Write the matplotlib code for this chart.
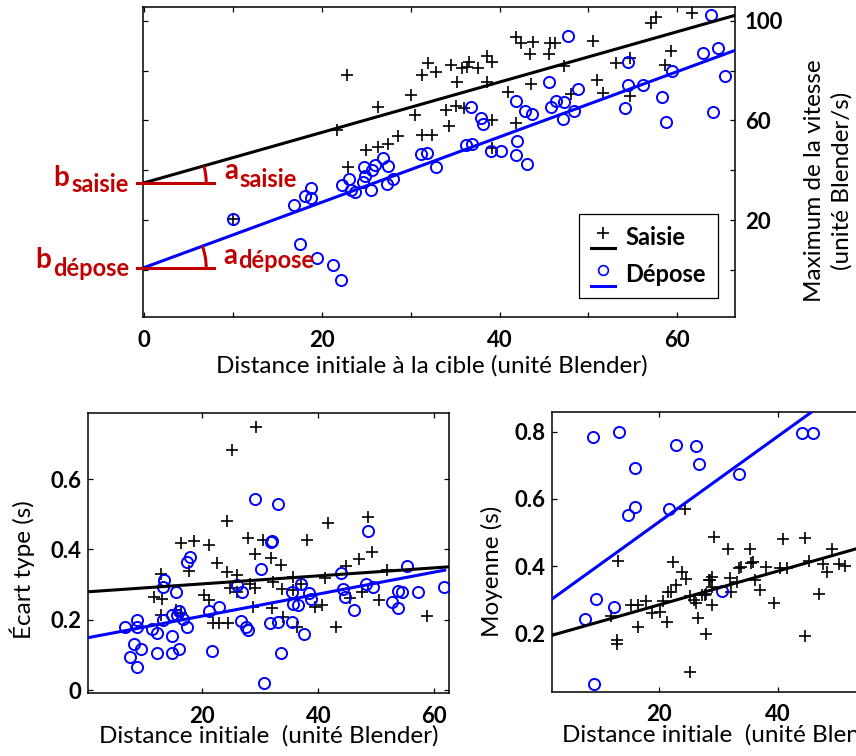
import math
import numpy as np
import matplotlib
matplotlib.use("Agg")
import matplotlib.pyplot as plt
from matplotlib.lines import Line2D
from matplotlib.patches import Arc
from matplotlib.legend_handler import HandlerBase
from matplotlib.transforms import ScaledTranslation

plt.rcParams["font.family"] = ["Lato", "DejaVu Sans"]

RED = "#C00000"
BLUE = "#0000FF"

# ---------------- top panel : max speed vs initial distance ----------------
top_saisie_x = [22.8, 26.3, 21.7, 30.0, 31.3, 31.9, 30.5, 28.6, 31.3, 25.0, 26.3, 27.5, 22.9, 10.0,
                32.4, 32.9, 34.5, 35.2, 34.0, 34.3, 35.1, 36.0, 35.8, 36.3, 36.6, 37.6, 38.6, 39.1,
                38.6, 39.1, 39.1, 40.9, 41.8, 42.4, 43.8, 43.4, 41.8, 43.5, 45.7, 46.2, 45.6,
                47.2, 48.1, 50.5, 51.0, 51.7, 53.1, 54.7, 54.7, 57.1, 57.6, 58.6, 59.3, 61.7]
top_saisie_y = [78.3, 65.4, 56.0, 70.3, 78.3, 83.0, 62.3, 53.6, 54.3, 48.3, 49.2, 50.7, 41.4, 20.6,
                54.3, 79.6, 82.3, 75.4, 64.3, 57.6, 66.0, 65.0, 81.0, 81.6, 83.6, 81.0, 85.9, 83.6,
                75.6, 60.3, 49.0, 71.5, 93.4, 91.2, 91.6, 86.6, 59.0, 74.7, 91.2, 91.0, 86.6,
                81.9, 70.7, 92.0, 76.3, 71.2, 83.0, 85.0, 70.0, 99.2, 101.4, 82.3, 87.9, 103.0]
top_depose_x = [10.0, 16.9, 18.1, 18.8, 18.8, 17.5, 19.4, 21.2, 22.2, 22.3, 23.1, 23.3, 23.7, 24.7,
                24.8, 24.6, 25.5, 25.7, 26.0, 26.9, 27.4, 27.3, 28.0, 31.2, 31.8, 32.8, 36.8, 37.9,
                38.1, 36.2, 36.9, 39.0, 40.2, 41.8, 42.9, 43.6, 42.0, 41.8, 43.1, 45.6, 45.8, 46.4,
                47.2, 47.1, 48.4, 48.8, 47.7, 54.1, 54.5, 54.5, 56.1, 58.3, 58.7, 59.4, 62.9, 64.6,
                63.8, 65.4, 64.0]
top_depose_y = [20.6, 26.0, 29.6, 33.0, 29.0, 10.6, 4.7, 2.2, -4.0, 34.3, 36.7, 32.3, 31.4, 41.4,
                37.6, 35.2, 32.0, 40.0, 42.0, 44.9, 41.6, 34.6, 36.7, 46.7, 47.0, 41.3, 65.6, 61.0,
                58.7, 50.3, 50.6, 47.6, 47.6, 67.9, 63.6, 62.6, 51.6, 46.0, 42.6, 75.6, 65.6, 68.0,
                67.6, 60.7, 63.9, 72.6, 93.9, 65.0, 83.4, 74.3, 74.3, 69.6, 59.2, 79.9, 87.0, 89.2,
                102.3, 77.9, 63.2]
# fitted lines: [intercept, slope]
top_fit_saisie = [35.0, 1.01]
top_fit_depose = [1.0, 1.31]

# ---------------- bottom left : standard deviation ----------------
std_saisie_x = [29.3, 25.2, 24.3, 27.9, 18.6, 16.3, 21.2, 30.5, 38.1, 41.7, 48.5, 49.3, 47.1, 44.8,
                51.8, 41.1, 29.1, 22.5, 24.2, 26.0, 31.8, 33.6, 35.7, 17.7, 12.8, 11.7, 13.1, 12.9,
                15.5, 16.4, 20.3, 21.2, 21.9, 22.8, 24.5, 24.8, 25.9, 28.2, 29.1, 28.8, 32.2, 32.1,
                33.8, 34.0, 36.4, 39.4, 40.6, 43.0, 45.5, 47.6, 50.5, 58.8, 35.7, 37.0]
std_saisie_y = [0.747, 0.684, 0.482, 0.433, 0.425, 0.417, 0.412, 0.428, 0.428, 0.474, 0.493, 0.393,
                0.374, 0.353, 0.341, 0.320, 0.387, 0.362, 0.336, 0.327, 0.377, 0.355, 0.322, 0.339,
                0.329, 0.265, 0.258, 0.213, 0.227, 0.218, 0.270, 0.256, 0.190, 0.190, 0.190, 0.289,
                0.278, 0.303, 0.289, 0.237, 0.308, 0.234, 0.286, 0.209, 0.180, 0.237, 0.242, 0.178,
                0.261, 0.280, 0.256, 0.210, 0.284, 0.303]
std_depose_x = [29.0, 33.0, 48.6, 32.1, 31.8, 17.9, 17.3, 30.2, 55.3, 44.0, 13.4, 13.2, 15.4, 26.0,
                26.9, 37.0, 35.4, 38.4, 38.8, 35.7, 36.5, 44.3, 44.6, 46.2, 48.2, 49.5, 52.8, 53.8,
                54.5, 53.8, 57.2, 61.7, 22.9, 21.2, 16.0, 15.6, 14.7, 16.6, 17.3, 13.2, 12.2, 11.3,
                8.7, 8.8, 6.7, 8.2, 7.5, 9.4, 8.8, 12.2, 14.7, 14.7, 16.0, 21.7, 26.7, 27.6, 27.9,
                31.7, 33.0, 35.5, 37.6, 33.6, 30.6]
std_depose_y = [0.544, 0.530, 0.452, 0.425, 0.420, 0.379, 0.365, 0.343, 0.353, 0.332, 0.313, 0.292,
                0.278, 0.299, 0.280, 0.303, 0.278, 0.275, 0.258, 0.246, 0.241, 0.286, 0.265, 0.229,
                0.301, 0.294, 0.251, 0.282, 0.280, 0.234, 0.278, 0.294, 0.237, 0.225, 0.225, 0.213,
                0.213, 0.201, 0.178, 0.199, 0.161, 0.175, 0.199, 0.180, 0.178, 0.130, 0.095, 0.118,
                0.066, 0.106, 0.154, 0.106, 0.116, 0.112, 0.197, 0.180, 0.171, 0.190, 0.194, 0.194,
                0.158, 0.106, 0.019]
std_fit_saisie = [0.2792, 0.00114]
std_fit_depose = [0.148, 0.003124]

# ---------------- bottom right : mean ----------------
mean_saisie_x = [24.4, 13.1, 22.4, 23.9, 24.6, 22.8, 21.6, 22.0, 28.5, 20.6, 17.8, 16.5, 15.2, 18.8,
                 20.2, 16.4, 21.3, 11.9, 25.2, 25.9, 26.2, 27.8, 26.6, 12.9, 12.9, 25.2,
                 29.2, 31.7, 35.4, 41.0, 44.6, 49.1, 33.5, 33.9, 35.6, 35.8, 38.0, 40.4, 41.6, 45.3,
                 47.6, 48.3, 50.4, 51.3, 32.0, 33.2, 36.2, 37.0, 32.2, 29.0, 28.6, 28.9, 28.0, 27.2,
                 28.9, 39.4, 47.0, 28.0, 44.6]
mean_saisie_y = [0.570, 0.416, 0.411, 0.381, 0.361, 0.343, 0.324, 0.322, 0.358, 0.296, 0.296, 0.284,
                 0.284, 0.259, 0.264, 0.219, 0.232, 0.252, 0.312, 0.299, 0.289, 0.314, 0.246, 0.180,
                 0.167, 0.085,
                 0.487, 0.450, 0.450, 0.482, 0.485, 0.450, 0.395, 0.398, 0.408, 0.413, 0.396, 0.393,
                 0.393, 0.415, 0.405, 0.383, 0.405, 0.401, 0.363, 0.353, 0.358, 0.328, 0.324, 0.368,
                 0.358, 0.338, 0.318, 0.313, 0.284, 0.289, 0.318, 0.197, 0.192]
mean_depose_x = [8.8, 13.2, 22.9, 26.2, 26.7, 16.0, 33.5, 44.2, 46.0, 14.8, 16.0, 21.7, 9.4, 7.6,
                 12.4, 9.0, 30.7]
mean_depose_y = [0.785, 0.798, 0.760, 0.758, 0.704, 0.693, 0.673, 0.797, 0.795, 0.552, 0.577, 0.570,
                 0.302, 0.242, 0.277, 0.049, 0.325]
mean_fit_saisie = [0.184, 0.00502]
mean_fit_depose = [0.277, 0.01272]

LABEL_SIZE = 17.5


class MarkerOverLine(HandlerBase):
    # legend key: marker sitting above a short line segment
    def create_artists(self, legend, orig_handle, xdescent, ydescent,
                       width, height, fontsize, trans):
        x0 = -xdescent
        line = Line2D([x0, x0 + width], [-ydescent - 0.2 * height] * 2,
                      color=orig_handle.get_color(), lw=orig_handle.get_linewidth())
        mark = Line2D([x0 + width / 2], [-ydescent + 0.75 * height],
                      marker=orig_handle.get_marker(), ls="none",
                      mfc="none", mec=orig_handle.get_color(),
                      ms=orig_handle.get_markersize(), mew=orig_handle.get_markeredgewidth())
        line.set_transform(trans)
        mark.set_transform(trans)
        return [line, mark]


def style_axes(ax):
    for s in ax.spines.values():
        s.set_linewidth(1.1)
    ax.tick_params(direction="in", length=3.6, width=0.9, top=True, right=True,
                   labelsize=16)
    for lab in ax.get_xticklabels() + ax.get_yticklabels():
        lab.set_fontweight("bold")


def scatter_pair(ax, sx, sy, dx, dy):
    ax.plot(sx, sy, "+", color="black", ms=9, mew=1.2, zorder=3)
    ax.plot(dx, dy, "o", mfc="none", mec=BLUE, ms=8, mew=1.4, zorder=3)


def fit_line(ax, fit, x0, x1, color):
    xs = np.array([x0, x1])
    ax.plot(xs, fit[0] + fit[1] * xs, color=color, lw=2.2, zorder=4)


def red_label(ax, b, letter, name, x_letter, dy_letter, dy_sub, right):
    # big letter + subscript, offsets in pixels from (0, b), y positive upward
    px = 0.72
    if right:
        ha, xs = "right", x_letter + 2
    else:
        ha, xs = "left", x_letter + 15
    ax.annotate(letter, xy=(0, b), xytext=(x_letter * px, dy_letter * px),
                textcoords="offset points", ha=ha, va="baseline", color=RED,
                fontsize=20, fontweight="bold", annotation_clip=False)
    ax.annotate(name, xy=(0, b), xytext=(xs * px, dy_sub * px), textcoords="offset points",
                ha="left", va="baseline", color=RED, fontsize=17, fontweight="bold",
                annotation_clip=False)


fig = plt.figure(figsize=(8.56, 7.56), dpi=100)

# ---- top ----
ax = fig.add_axes([0.1674, 0.5803, 0.6912, 0.4104])
scatter_pair(ax, top_saisie_x, top_saisie_y, top_depose_x, top_depose_y)
ax.set_xlim(-0.1, 66.5)
ax.set_ylim(-18.95, 105.5)
fit_line(ax, top_fit_saisie, 0, 66.5, "black")
fit_line(ax, top_fit_depose, 0, 66.5, BLUE)
ax.set_xticks(range(0, 61, 10))
ax.set_xticklabels(["0", "", "20", "", "40", "", "60"])
ax.set_yticks(range(0, 101, 20))
ax.set_yticklabels(["", "20", "", "60", "", "100"])
ax.yaxis.tick_right()
style_axes(ax)
ax.tick_params(labelleft=False, labelright=True, left=True)
ax.tick_params(axis="x", pad=9)
ax.tick_params(axis="y", pad=7)
ax.set_xlabel("Distance initiale à la cible (unité Blender)", fontsize=LABEL_SIZE)
ax.xaxis.set_label_coords(0.487, -0.157)
ax.xaxis.label.set(va="center")
ax.text(1.157, 0.44, "Maximum de la vitesse\n(unité Blender/s)", transform=ax.transAxes,
        rotation=90, ha="center", va="center", fontsize=LABEL_SIZE, linespacing=1.35)

h_s = Line2D([], [], color="black", lw=2.2, marker="+", ms=9, mew=1.2)
h_d = Line2D([], [], color=BLUE, lw=2.2, marker="o", ms=7, mew=1.2)
leg = ax.legend([h_s, h_d], ["Saisie", "Dépose"], loc="lower right",
                bbox_to_anchor=(0.971, 0.062), borderaxespad=0,
                handler_map={Line2D: MarkerOverLine()},
                prop={"weight": "bold", "size": 17}, handlelength=1.0, handletextpad=0.45,
                labelspacing=0.6, borderpad=0.5, fancybox=False, framealpha=1,
                edgecolor="black")
leg.get_frame().set_linewidth(0.9)

# intercept / slope annotations: (b x, b dy, sub dy, a x, a dy, sub dy) in pixels
for fit, name, pos in [(top_fit_saisie, "saisie", (-75, -3.7, -9.4, 80, 3.3, -4.0)),
                       (top_fit_depose, "dépose", (-93, 0.0, -8.4, 79, 3.3, -0.5))]:
    b = fit[0]
    p0 = ax.transData.transform((0, b))
    p1 = ax.transData.transform((10, b + 10 * fit[1]))
    ang = math.degrees(math.atan2(p1[1] - p0[1], p1[0] - p0[0]))
    tr = fig.dpi_scale_trans + ScaledTranslation(0, b, ax.transData)
    ax.add_line(Line2D([-0.07, 0.70], [0, 0], color=RED, lw=2.2, transform=tr,
                       clip_on=False, zorder=5))
    ax.add_patch(Arc((0, 0), 1.24, 1.24, theta1=0, theta2=ang, color=RED, lw=2.2,
                     transform=tr, clip_on=False, zorder=5))
    red_label(ax, b, "b", name, pos[0], pos[1], pos[2], right=True)
    red_label(ax, b, "a", name, pos[3], pos[4], pos[5], right=False)

# ---- bottom left ----
ax2 = fig.add_axes([0.1032, 0.0829, 0.4217, 0.3712])
scatter_pair(ax2, std_saisie_x, std_saisie_y, std_depose_x, std_depose_y)
ax2.set_xlim(0.34, 62.6)
ax2.set_ylim(-0.0094, 0.789)
fit_line(ax2, std_fit_saisie, 0.34, 62.6, "black")
fit_line(ax2, std_fit_depose, 0.34, 61.8, BLUE)
ax2.set_xticks([20, 40, 60])
ax2.set_yticks([0, 0.2, 0.4, 0.6])
ax2.set_yticklabels(["0", "0.2", "0.4", "0.6"])
style_axes(ax2)
ax2.tick_params(axis="x", pad=9)
ax2.tick_params(axis="y", pad=5)
ax2.set_xlabel("Distance initiale  (unité Blender)", fontsize=LABEL_SIZE, labelpad=-1)
ax2.set_ylabel("Écart type (s)", fontsize=LABEL_SIZE)
ax2.yaxis.set_label_coords(-0.184, 0.44)
ax2.yaxis.label.set(ha="center", va="center")

# ---- bottom right ----
ax3 = fig.add_axes([0.6452, 0.0847, 0.419, 0.3704])
scatter_pair(ax3, mean_saisie_x, mean_saisie_y, mean_depose_x, mean_depose_y)
ax3.set_xlim(2.0, 62.5)
ax3.set_ylim(0.025, 0.859)
fit_line(ax3, mean_fit_saisie, 2.0, 62.5, "black")
fit_line(ax3, mean_fit_depose, 2.0, 62.5, BLUE)
ax3.set_xticks([20, 40, 60])
ax3.set_yticks([0.2, 0.4, 0.6, 0.8])
ax3.set_yticklabels(["0.2", "0.4", "0.6", "0.8"])
style_axes(ax3)
ax3.tick_params(axis="x", pad=9)
ax3.tick_params(axis="y", pad=5)
ax3.set_xlabel("Distance initiale  (unité Blender)", fontsize=LABEL_SIZE, labelpad=-1)
ax3.set_ylabel("Moyenne (s)", fontsize=LABEL_SIZE)
ax3.yaxis.set_label_coords(-0.168, 0.43)
ax3.yaxis.label.set(ha="center", va="center")

fig.savefig("out.png", dpi=100)
